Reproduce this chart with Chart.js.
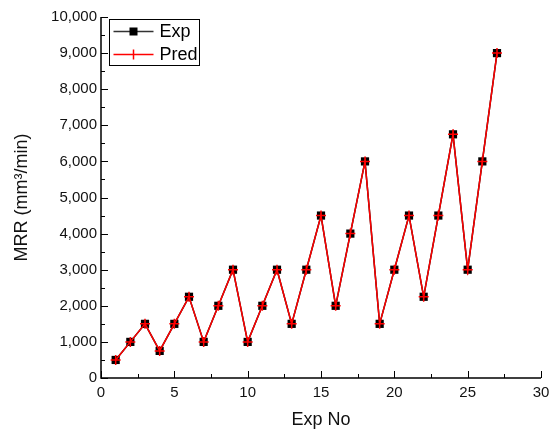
<!DOCTYPE html>
<html lang="en">
<head>
  <meta charset="UTF-8" />
  <title>MRR Exp vs Pred</title>
  <style>
    html, body { margin: 0; padding: 0; background: #fff; }
    #wrap { width: 559px; height: 432px; position: relative; }
  </style>
</head>
<body>
  <div id="wrap"><canvas id="mrrChart"></canvas></div>
  <script src="https://cdn.jsdelivr.net/npm/chart.js"></script>
  <script>
    const expNo = [1, 2, 3, 4, 5, 6, 7, 8, 9, 10, 11, 12, 13, 14, 15, 16, 17, 18, 19, 20, 21, 22, 23, 24, 25, 26, 27];
    const expMRR = [500, 1000, 1500, 750, 1500, 2250, 1000, 2000, 3000, 1000, 2000, 3000, 1500, 3000, 4500, 2000, 4000, 6000, 1500, 3000, 4500, 2250, 4500, 6750, 3000, 6000, 9000];
    const predMRR = [500, 1000, 1500, 750, 1500, 2250, 1000, 2000, 3000, 1000, 2000, 3000, 1500, 3000, 4500, 2000, 4000, 6000, 1500, 3000, 4500, 2250, 4500, 6750, 3000, 6000, 9000];
    const seriesNames = ['Exp', 'Pred'];

    const FONT = '"Liberation Sans", Arial, sans-serif';

    // inward ticks + axis lines, Origin style
    const axesPlugin = {
      id: 'axesPlugin',
      afterDraw(chart) {
        const { ctx, chartArea: a, scales: { x, y } } = chart;
        ctx.save();
        ctx.strokeStyle = '#000';
        ctx.lineWidth = 1.5;
        ctx.beginPath();
        ctx.moveTo(a.left, a.top);
        ctx.lineTo(a.left, a.bottom);
        ctx.lineTo(a.right, a.bottom);
        ctx.stroke();
        ctx.lineWidth = 1;
        ctx.beginPath();
        x.ticks.forEach((t, i) => {
          const px = Math.round(x.getPixelForValue(t.value)) + 0.5;
          ctx.moveTo(px, a.bottom); ctx.lineTo(px, a.bottom - 7);
          if (i < x.ticks.length - 1) {
            const mx = Math.round(x.getPixelForValue((t.value + x.ticks[i + 1].value) / 2)) + 0.5;
            ctx.moveTo(mx, a.bottom); ctx.lineTo(mx, a.bottom - 4);
          }
        });
        y.ticks.forEach((t, i) => {
          const py = Math.round(y.getPixelForValue(t.value)) + 0.5;
          ctx.moveTo(a.left, py); ctx.lineTo(a.left + 7, py);
          if (i < y.ticks.length - 1) {
            const my = Math.round(y.getPixelForValue((t.value + y.ticks[i + 1].value) / 2)) + 0.5;
            ctx.moveTo(a.left, my); ctx.lineTo(a.left + 4, my);
          }
        });
        ctx.stroke();

        // legend box
        const bx = a.left + 8.5, by = a.top + 2.5, bw = 90, bh = 46;
        ctx.fillStyle = '#fff';
        ctx.fillRect(bx, by, bw, bh);
        ctx.strokeStyle = '#000';
        ctx.lineWidth = 1;
        ctx.strokeRect(bx, by, bw, bh);
        const rows = [by + 12, by + 35];
        ctx.lineWidth = 1.5;
        ctx.strokeStyle = '#333';
        ctx.beginPath(); ctx.moveTo(bx + 4, rows[0]); ctx.lineTo(bx + 44, rows[0]); ctx.stroke();
        ctx.fillStyle = '#000';
        ctx.fillRect(bx + 20, rows[0] - 4, 8, 8);
        ctx.strokeStyle = '#ff0000';
        ctx.beginPath(); ctx.moveTo(bx + 4, rows[1]); ctx.lineTo(bx + 44, rows[1]); ctx.stroke();
        ctx.beginPath(); ctx.moveTo(bx + 24, rows[1] - 5); ctx.lineTo(bx + 24, rows[1] + 5); ctx.stroke();
        ctx.fillStyle = '#000';
        ctx.font = '18px ' + FONT;
        ctx.textBaseline = 'middle';
        ctx.fillText(seriesNames[0], bx + 50, rows[0] + 1);
        ctx.fillText(seriesNames[1], bx + 50, rows[1] + 1);
        ctx.restore();
      }
    };

    new Chart(document.getElementById('mrrChart'), {
      type: 'line',
      data: {
        datasets: [
          {
            label: seriesNames[0],
            data: expNo.map((n, i) => ({ x: n, y: expMRR[i] })),
            borderColor: '#000', backgroundColor: '#000', borderWidth: 1.5,
            pointStyle: 'rect', pointRadius: 5.8, pointBorderWidth: 0,
            pointBackgroundColor: '#000', tension: 0, order: 1
          },
          {
            label: seriesNames[1],
            data: expNo.map((n, i) => ({ x: n, y: predMRR[i] })),
            borderColor: '#ff0000', backgroundColor: '#ff0000', borderWidth: 1.5,
            pointStyle: 'cross', pointRadius: 5, pointBorderWidth: 1.5,
            pointBorderColor: '#ff0000', tension: 0, order: 0
          }
        ]
      },
      options: {
        responsive: true, maintainAspectRatio: false, animation: false,
        devicePixelRatio: 1,
        layout: { padding: { top: 17, right: 18, left: 0, bottom: 0 } },
        plugins: { legend: { display: false }, tooltip: { enabled: false } },
        scales: {
          x: {
            type: 'linear', min: 0, max: 30,
            grid: { display: false, drawTicks: false }, border: { display: false },
            ticks: { stepSize: 5, color: '#111', padding: 6, font: { family: FONT, size: 15 } },
            title: { display: true, text: 'Exp No', color: '#111', font: { family: FONT, size: 18 }, padding: { top: 0, bottom: 1 } },
            afterFit: s => { s.height = 54; }
          },
          y: {
            min: 0, max: 10000,
            grid: { display: false, drawTicks: false }, border: { display: false },
            ticks: {
              stepSize: 1000, color: '#111', padding: 4, font: { family: FONT, size: 15 },
              callback: v => v.toLocaleString('en-US')
            },
            title: { display: true, text: 'MRR (mm³/min)', color: '#111', font: { family: FONT, size: 18 }, padding: { top: 11, bottom: 0 } },
            afterFit: s => { s.width = 101; }
          }
        }
      },
      plugins: [axesPlugin]
    });
  </script>
</body>
</html>
